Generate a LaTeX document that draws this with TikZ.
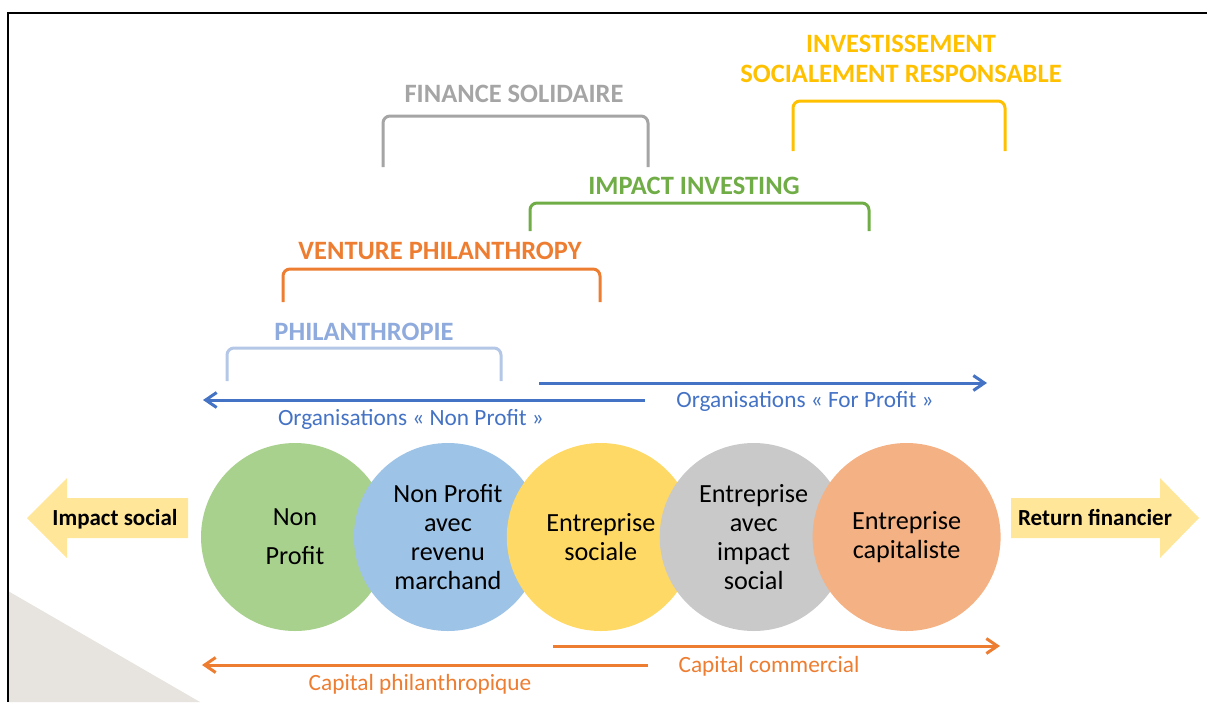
\documentclass[tikz,border=0pt]{standalone}
\usepackage{fontspec}
\setmainfont{Carlito}
\usepackage{xcolor}
\definecolor{npgreen}{HTML}{A9D18E}
\definecolor{npblue}{HTML}{9DC3E6}
\definecolor{esyellow}{HTML}{FFD966}
\definecolor{eigrey}{HTML}{C9C9C9}
\definecolor{ecorange}{HTML}{F4B183}
\definecolor{fatyellow}{HTML}{FFE699}
\definecolor{fsgrey}{HTML}{A5A5A5}
\definecolor{isrgold}{HTML}{FFC000}
\definecolor{iigreen}{HTML}{70AD47}
\definecolor{vporange}{HTML}{ED7D31}
\definecolor{philblue}{HTML}{8FAADC}
\definecolor{philbracket}{HTML}{B4C7E7}
\definecolor{orgblue}{HTML}{4472C4}
\definecolor{cornergrey}{HTML}{E7E3DF}
\usepackage{tikz}
\usetikzlibrary{positioning, arrows.meta}

\tikzset{
  org/.style={circle, minimum size=188pt, inner sep=0pt, align=center,
    font=\fontsize{26.2}{29}\selectfont},
  heading/.style={align=center, font=\bfseries\fontsize{26.5}{30}\selectfont},
  bracket/.style={line width=3pt, rounded corners=7pt},
  span/.style={line width=3pt, -{Straight Barb[length=11pt,width=15pt]}},
  spanlabel/.style={anchor=base, font=\fontsize{23.3}{26}\selectfont},
  fatlabel/.style={anchor=base, font=\bfseries\fontsize{23}{26}\selectfont}
}

\begin{document}
\begin{tikzpicture}[x=1pt, y=-1pt]
            \useasboundingbox (0,0) rectangle (1207,702);
            \fill[cornergrey] (8,591) -- (200,702) -- (8,702) -- cycle;
            \draw[line width=2pt] (8,702) -- (8,13) -- (1207,13);

            % brackets
            \foreach \l/\r/\t/\b/\c in {383/648/116/167/fsgrey, 793/1005/101/151/isrgold,
                530/869/203/231/iigreen, 283/600/269/302/vporange, 227/501/348/381/philbracket}
                \draw[bracket, \c] (\l,\b) |- (\r,\t) -- (\r,\b);
            \node[heading, fsgrey] (fs) at (514,94) {FINANCE SOLIDAIRE};
            \node[heading, isrgold] (isr) at (901,59) {INVESTISSEMENT\\SOCIALEMENT RESPONSABLE};
            \node[heading, iigreen] (ii) at (694,186) {IMPACT INVESTING};
            \node[heading, vporange] (vp) at (440,251) {VENTURE PHILANTHROPY};
            \node[heading, philblue] (ph) at (364,332) {PHILANTHROPIE};

            % organisations
            \coordinate (nonprofit-start) at (645,400);
            \coordinate (nonprofit-end) at (203,400);
            \coordinate (forprofit-start) at (539,383);
            \coordinate (forprofit-end) at (987,383);
            \draw[span, orgblue] (nonprofit-start) -- (nonprofit-end);
            \draw[span, orgblue] (forprofit-start) -- (forprofit-end);
            \node[spanlabel, orgblue] (nonprofit) at (411,425) {Organisations « Non Profit »};
            \node[spanlabel, orgblue] (forprofit) at (805,407) {Organisations « For Profit »};

            % circles
            \node[org, fill=npgreen] (np) at (295,537) {Non\\[10pt]Profit};
            \node[org, fill=npblue, right=-35.5pt of np] (npr) {Non Profit\\avec\\revenu\\marchand};
            \node[org, fill=esyellow, right=-35.5pt of npr] (es) {Entreprise\\sociale};
            \node[org, fill=eigrey, right=-35.5pt of es] (ei) {Entreprise\\avec\\impact\\social};
            \node[org, fill=ecorange, right=-35.5pt of ei] (ec) {Entreprise\\capitaliste};

            % big arrows
            \fill[fatyellow] (27,518) -- (67,478) -- (67,498) -- (188,498) -- (188,538)
                -- (67,538) -- (67,558) -- cycle;
            \fill[fatyellow] (1011,498) -- (1160,498) -- (1160,478) -- (1199,518)
                -- (1160,558) -- (1160,538) -- (1011,538) -- cycle;
            \node[fatlabel] (impact) at (115,525) {Impact social};
            \node[fatlabel] (return) at (1095,525) {Return financier};

            % capital
            \coordinate (philcap-start) at (648,665);
            \coordinate (philcap-end) at (202,665);
            \coordinate (comcap-start) at (553,646);
            \coordinate (comcap-end) at (1000,646);
            \draw[span, vporange] (philcap-start) -- (philcap-end);
            \draw[span, vporange] (comcap-start) -- (comcap-end);
            \node[spanlabel, vporange] (philcap) at (420,690) {Capital philanthropique};
            \node[spanlabel, vporange] (comcap) at (769,672) {Capital commercial};
        \end{tikzpicture}
\end{document}
